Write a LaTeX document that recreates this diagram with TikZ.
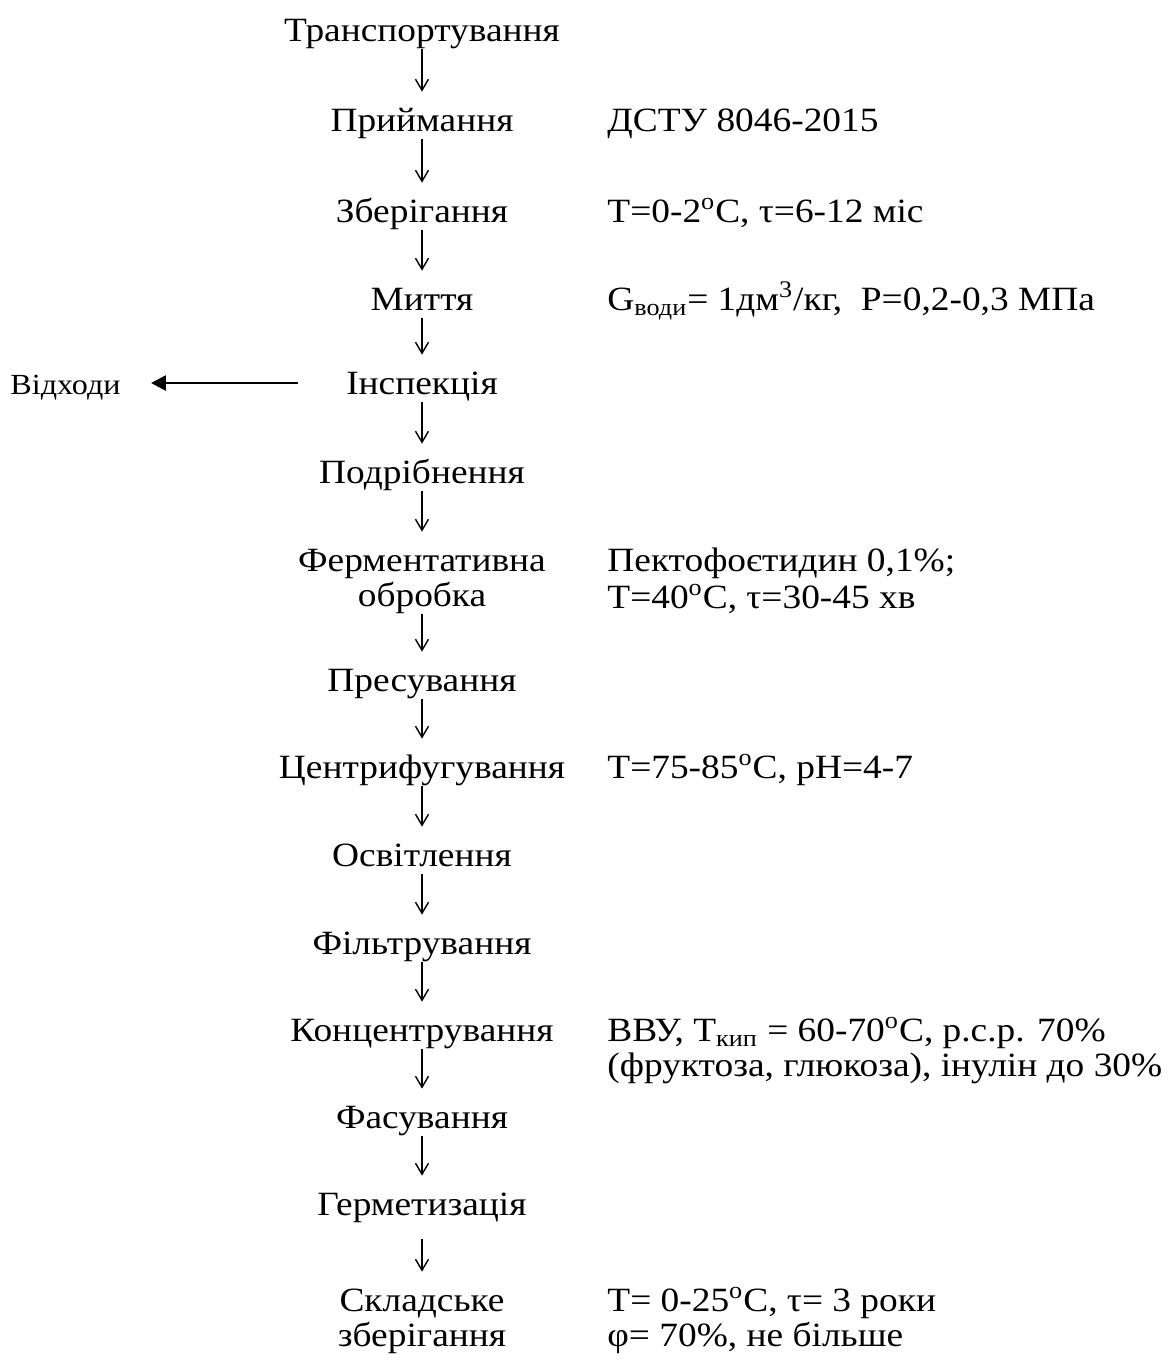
\documentclass[tikz,border=0pt]{standalone}
\usepackage{fontspec}
\setmainfont{Liberation Serif}[FakeStretch=1.1]
\usetikzlibrary{arrows.meta}
\newcommand{\flowfont}{\fontsize{17pt}{17.5pt}\selectfont}
\tikzset{
  stage/.style = {anchor=base, inner sep=0pt, text height=11pt, text depth=0pt, font=\flowfont},
  stagetwo/.style = {stage, align=center, text height=28.5pt},
  note/.style = {anchor=base west, inner sep=0pt, align=left, font=\flowfont},
  flow/.style = {-{Straight Barb[length=5.5pt,width=6.5pt]}, line width=0.7pt, shorten <=4pt, shorten >=8.5pt},
  waste/.style = {-{Triangle[length=7.5pt,width=7.5pt]}, line width=1.3pt, shorten <=24pt, shorten >=15pt},
}
\begin{document}
\begin{tikzpicture}[x=0.5pt,y=-0.5pt]
  \useasboundingbox (0,0) rectangle (1169,1367);

  % main line
  \node[stage] (transp)     at (422,41)   {Транспортування};
  \node[stage] (receipt)    at (422,131)  {Приймання};
  \node[stage] (storage)    at (422,222)  {Зберігання};
  \node[stage] (washing)    at (422,310)  {Миття};
  \node[stage] (inspect)    at (422,394)  {Інспекція};
  \node[stage] (crushing)   at (422,483)  {Подрібнення};
  \node[stagetwo] (enzyme)  at (422,606)  {Ферментативна\\обробка};
  \node[stage] (pressing)   at (422,691)  {Пресування};
  \node[stage] (centrif)    at (422,778)  {Центрифугування};
  \node[stage] (clarify)    at (422,866)  {Освітлення};
  \node[stage] (filter)     at (422,954)  {Фільтрування};
  \node[stage] (concentr)   at (422,1041) {Концентрування};
  \node[stage] (packing)    at (422,1128) {Фасування};
  \node[stage] (sealing)    at (422,1215) {Герметизація};
  \node[stagetwo] (wareh)   at (422,1346) {Складське\\зберігання};

  \foreach \a/\b in {transp/receipt, receipt/storage, storage/washing,
      washing/inspect, inspect/crushing, crushing/enzyme, enzyme/pressing,
      pressing/centrif, centrif/clarify, clarify/filter, filter/concentr,
      concentr/packing, packing/sealing}
    \draw[flow] (\a) -- (\b);
  \draw[flow, shorten <=12pt] (sealing) -- (wareh);

  % waste
  \node[stage, anchor=base west, font=\fontsize{14.6pt}{15pt}\selectfont] (waste) at (10,394) {Відходи};
  \draw[waste] (inspect) -- (waste);

  % parameters
  \node[note] (nreceipt) at (607,131)  {ДСТУ 8046-2015};
  \node[note] (nstorage) at (607,222)  {Т=0-2\textsuperscript{о}С, τ=6-12 міс};
  \node[note] (nwashing) at (607,310)  {G\textsubscript{води}= 1дм\textsuperscript{3}/кг,~ P=0,2-0,3 МПа};
  \node[note] (nenzyme)  at (607,608)  {Пектофоєтидин 0,1\%;\\[1pt]Т=40\textsuperscript{о}С, τ=30-45 хв};
  \node[note] (ncentrif) at (607,778)  {Т=75-85\textsuperscript{о}С, pH=4-7};
  \node[note] (nconc)    at (607,1076) {ВВУ, Т\textsubscript{кип} = 60-70\textsuperscript{о}С, р.с.р. 70\%\\(фруктоза, глюкоза), інулін до 30\%};
  \node[note] (nwareh)   at (607,1346) {Т= 0-25\textsuperscript{о}С, τ= 3 роки\\φ= 70\%, не більше};
\end{tikzpicture}
\end{document}
